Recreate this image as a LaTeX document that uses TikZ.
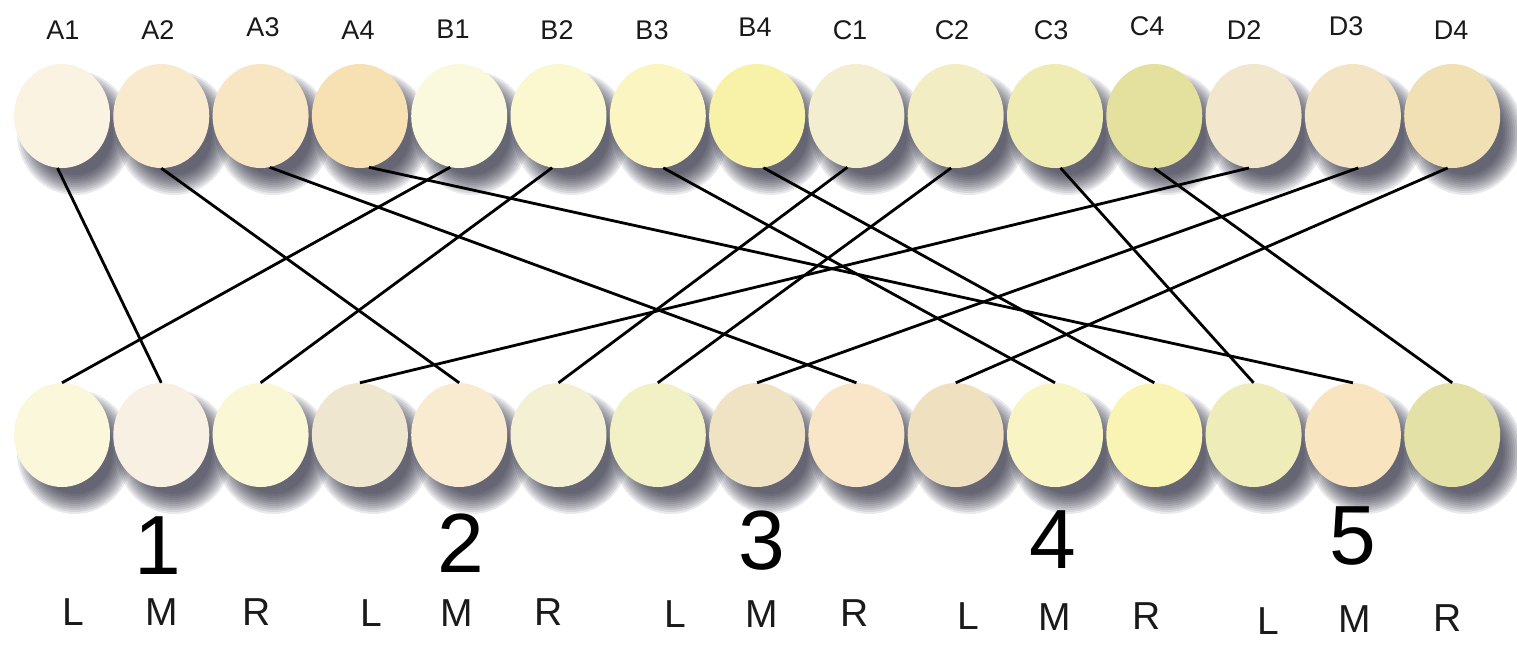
\documentclass[tikz,border=0pt]{standalone}
\usepackage{fontspec}
\setmainfont{Liberation Sans}
\usetikzlibrary{shapes.geometric}
% top row colours
\definecolor{cA1}{HTML}{FBF3E2}\definecolor{cA2}{HTML}{F9EACD}\definecolor{cA3}{HTML}{F8E5C1}
\definecolor{cA4}{HTML}{F7E0B1}\definecolor{cB1}{HTML}{FBF9DD}\definecolor{cB2}{HTML}{FBF8D0}
\definecolor{cB3}{HTML}{FAF5C1}\definecolor{cB4}{HTML}{F8F2A8}\definecolor{cC1}{HTML}{F4EED0}
\definecolor{cC2}{HTML}{F2EDC2}\definecolor{cC3}{HTML}{EFECB3}\definecolor{cC4}{HTML}{E4E19F}
\definecolor{cD2}{HTML}{F2E6CD}\definecolor{cD3}{HTML}{F3E4C4}\definecolor{cD4}{HTML}{F2E0B5}
% bottom row colours
\definecolor{cb1}{HTML}{FAF7DA}\definecolor{cb2}{HTML}{F8F1E3}\definecolor{cb3}{HTML}{FAF7D4}
\definecolor{cb4}{HTML}{EEE6CE}\definecolor{cb5}{HTML}{F8EBD0}\definecolor{cb6}{HTML}{F4F0D4}
\definecolor{cb7}{HTML}{F2F0C5}\definecolor{cb8}{HTML}{F0E3C4}\definecolor{cb9}{HTML}{F9E6C9}
\definecolor{cb10}{HTML}{EFE0BF}\definecolor{cb11}{HTML}{F8F4C3}\definecolor{cb12}{HTML}{FAF4B4}
\definecolor{cb13}{HTML}{EEECB8}\definecolor{cb14}{HTML}{F8E4BF}\definecolor{cb15}{HTML}{E3E1A6}
\definecolor{shadecol}{HTML}{1E1E32}
\definecolor{txt}{HTML}{1A1A1A}
\begin{document}
\begin{tikzpicture}[x=1pt,y=-1pt,
  ball/.style={ellipse, minimum width=96pt, minimum height=104pt, inner sep=0pt, draw=none},
  link/.style={line width=2.8pt, black},
  toplbl/.style={font=\fontsize{27}{32}\selectfont, text=txt, inner sep=0pt},
  lmr/.style={font=\fontsize{39}{46}\selectfont, text=txt, inner sep=0pt},
  bignum/.style={font=\fontsize{84}{100}\selectfont, text=black, inner sep=0pt}]
\useasboundingbox[fill=white] (0,0) rectangle (1517,649);

% soft drop shadows
\foreach \i in {1,...,15}{
  \pgfmathsetmacro\xx{62+99.3*(\i-1)}
  \foreach \d in {0,2,...,20}{
    \fill[shadecol, fill opacity=0.095] (\xx+13,116+17) ellipse [x radius=38pt+\d pt, y radius=42pt+\d pt];
    \fill[shadecol, fill opacity=0.095] (\xx+13,435+17) ellipse [x radius=38pt+\d pt, y radius=42pt+\d pt];
  }
}

% top row
\foreach \n [count=\i] in {A1,A2,A3,A4,B1,B2,B3,B4,C1,C2,C3,C4,D2,D3,D4}{
  \pgfmathsetmacro\xx{62+99.3*(\i-1)}
  \node[ball, fill=c\n] (\n) at (\xx,116) {};
}
% bottom row
\foreach \i in {1,...,15}{
  \pgfmathsetmacro\xx{62+99.3*(\i-1)}
  \node[ball, fill=cb\i] (b\i) at (\xx,435) {};
}

% connectors
\draw[link] (A1.-95) -- (b2.north);
\draw[link] (A2.south) -- (b5.north);
\draw[link] (A3.-80) -- (b9.north);
\draw[link] (A4.-80) -- (b14.north);
\draw[link] (B1.-100) -- (b1.north);
\draw[link] (B2.-97) -- (b3.north);
\draw[link] (B3.-84) -- (b11.north);
\draw[link] (B4.-83) -- (b12.north);
\draw[link] (C1.-100) -- (b6.north);
\draw[link] (C2.-95) -- (b7.north);
\draw[link] (C3.-84) -- (b13.north);
\draw[link] (C4.south) -- (b15.north);
\draw[link] (D2.-95) -- (b4.north);
\draw[link] (D3.-84) -- (b8.north);
\draw[link] (D4.-95) -- (b10.north);

% top labels
\node[toplbl] (tA1) at (63,30) {A1};
\node[toplbl] (tA2) at (158,30) {A2};
\node[toplbl] (tA3) at (263,27) {A3};
\node[toplbl] (tA4) at (358,30) {A4};
\node[toplbl] (tB1) at (453,29) {B1};
\node[toplbl] (tB2) at (557,30) {B2};
\node[toplbl] (tB3) at (652,30) {B3};
\node[toplbl] (tB4) at (755,27) {B4};
\node[toplbl] (tC1) at (850,30) {C1};
\node[toplbl] (tC2) at (952,30) {C2};
\node[toplbl] (tC3) at (1051,30) {C3};
\node[toplbl] (tC4) at (1147,26) {C4};
\node[toplbl] (tD2) at (1244,30) {D2};
\node[toplbl] (tD3) at (1346,26) {D3};
\node[toplbl] (tD4) at (1451,30) {D4};

% big numbers
\node[bignum] (n1) at (158,546) {1};
\node[bignum] (n2) at (461,543) {2};
\node[bignum] (n3) at (762,541) {3};
\node[bignum] (n4) at (1053,540) {4};
\node[bignum] (n5) at (1353,536) {5};

% L M R labels
\node[lmr] (l1) at (73,612) {L};
\node[lmr] (m1) at (162,612) {M};
\node[lmr] (r1) at (257,612) {R};
\node[lmr] (l2) at (371,613) {L};
\node[lmr] (m2) at (457,613) {M};
\node[lmr] (r2) at (549,612) {R};
\node[lmr] (l3) at (675,614) {L};
\node[lmr] (m3) at (762,614) {M};
\node[lmr] (r3) at (855,613) {R};
\node[lmr] (l4) at (968,616) {L};
\node[lmr] (m4) at (1055,617) {M};
\node[lmr] (r4) at (1147,616) {R};
\node[lmr] (l5) at (1268,621) {L};
\node[lmr] (m5) at (1355,619) {M};
\node[lmr] (r5) at (1448,618) {R};
\end{tikzpicture}
\end{document}
